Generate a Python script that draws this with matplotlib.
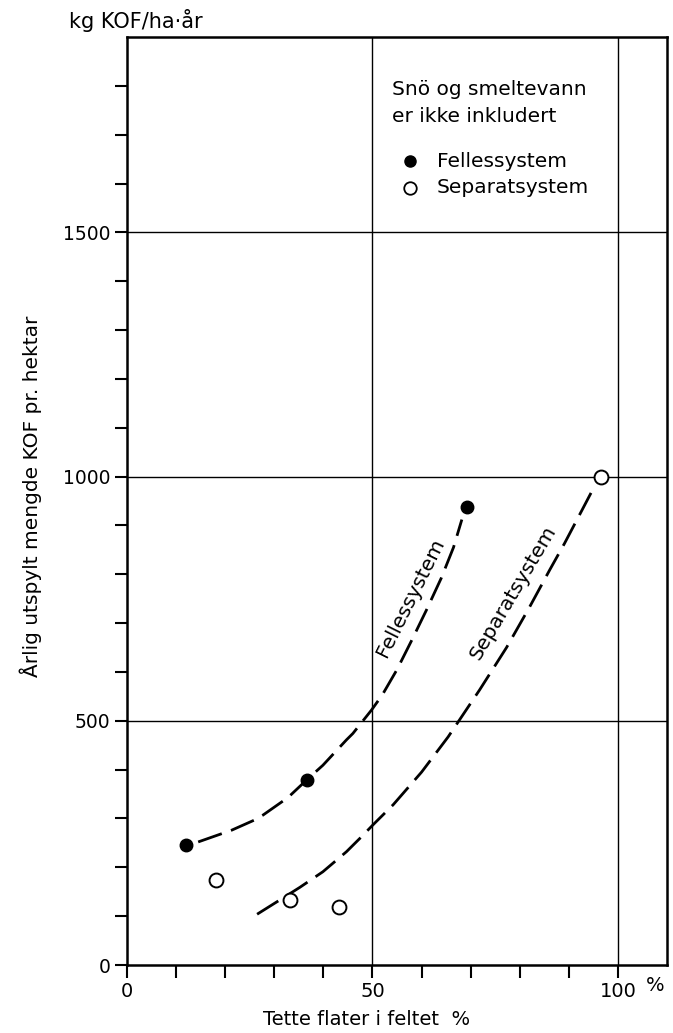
import matplotlib
matplotlib.use("Agg")
import matplotlib.pyplot as plt
import matplotlib.transforms as mtransforms

plt.rcParams['font.family'] = ['DejaVu Sans']

# measured points
felles_x = [12.0, 36.6, 69.2]
felles_y = [246, 379, 937]
separat_x = [18.2, 33.3, 43.2, 96.5]
separat_y = [174, 133, 118, 1000]

# hand drawn trend curves
felles_curve_x = [14.5, 19.6, 21.3, 26.0, 27.7, 32.8, 36.6, 39.9, 44.7, 46.0,
                  49.8, 52.0, 55.0, 58.0, 61.0, 64.0, 66.5, 68.2]
felles_curve_y = [252, 270, 276, 297, 307, 343, 379, 409, 461, 474,
                  522, 553, 605, 665, 727, 792, 855, 912]
separat_curve_x = [26.5, 31.1, 35.2, 39.9, 44.7, 47.8, 50.1, 54.2, 60.0, 65.4,
                   71.8, 77.3, 82.0, 86.1, 89.1, 92.5, 95.0]
separat_curve_y = [104, 133, 159, 191, 232, 263, 287, 328, 395, 467,
                   563, 650, 733, 809, 863, 928, 976]

x_ticks = [0, 10, 20, 30, 40, 50, 60, 70, 80, 90, 100]
x_ticklabels = ['0', '', '', '', '', '50', '', '', '', '', '100']
y_major = [0, 500, 1000, 1500]
y_minor = [100, 200, 300, 400, 600, 700, 800, 900, 1100, 1200, 1300, 1400, 1600, 1700, 1800]

fig = plt.figure(figsize=(6.73, 10.33), dpi=100)
ax = fig.add_axes([0.1887, 0.0658, 0.8025, 0.8984])
ax.set_xlim(0, 110)
ax.set_ylim(0, 1900)

for v in [50, 100]:
    ax.axvline(v, color='black', lw=1.0, zorder=1)
for v in [500, 1000, 1500]:
    ax.axhline(v, color='black', lw=1.0, zorder=1)

ax.plot(felles_curve_x, felles_curve_y, color='black', lw=2.0,
        dashes=(9, 3.5), solid_capstyle='butt', zorder=2)
ax.plot(separat_curve_x, separat_curve_y, color='black', lw=2.0,
        dashes=(9, 3.5), solid_capstyle='butt', zorder=2)

ax.plot(felles_x, felles_y, 'o', color='black', ms=9, zorder=3)
ax.plot(separat_x, separat_y, 'o', mfc='white', mec='black', mew=1.4, ms=10, zorder=3)

ax.text(57.8, 752, 'Fellessystem', rotation=63.5, ha='center', va='center', fontsize=14.5)
ax.text(78.6, 762, 'Separatsystem', rotation=59.5, ha='center', va='center', fontsize=14.5)

# legend box text
ax.text(53.9, 1793, 'Snö og smeltevann', fontsize=14.5, va='center', ha='left')
ax.text(53.9, 1738, 'er ikke inkludert', fontsize=14.5, va='center', ha='left')
ax.plot([57.6], [1646], 'o', color='black', ms=8)
ax.plot([57.6], [1591], 'o', mfc='white', mec='black', mew=1.3, ms=9)
ax.text(63.1, 1646, 'Fellessystem', fontsize=14.5, va='center', ha='left')
ax.text(63.1, 1591, 'Separatsystem', fontsize=14.5, va='center', ha='left')

ax.set_xticks(x_ticks)
ax.set_xticklabels(x_ticklabels, fontsize=14)
ax.set_yticks(y_major)
ax.set_yticklabels([str(v) for v in y_major], fontsize=13.5)
ax.set_yticks(y_minor, minor=True)
ax.tick_params(axis='both', which='both', direction='out', length=9, width=1.5, pad=3)

for s in ax.spines.values():
    s.set_linewidth(1.8)

trans = mtransforms.blended_transform_factory(ax.transData, ax.transAxes)
ax.text(107.5, -0.012, '%', transform=trans, ha='center', va='top', fontsize=14)

fig.text(0.544, 0.0126, 'Tette flater i feltet  %', fontsize=14, ha='center', va='center')
fig.text(0.045, 0.52, 'Årlig utspylt mengde KOF pr. hektar', fontsize=14.5,
         rotation=90, ha='center', va='center')
fig.text(0.103, 0.98, 'kg KOF/ha·år', fontsize=15, va='center', ha='left')

fig.savefig('out.png', dpi=100)
